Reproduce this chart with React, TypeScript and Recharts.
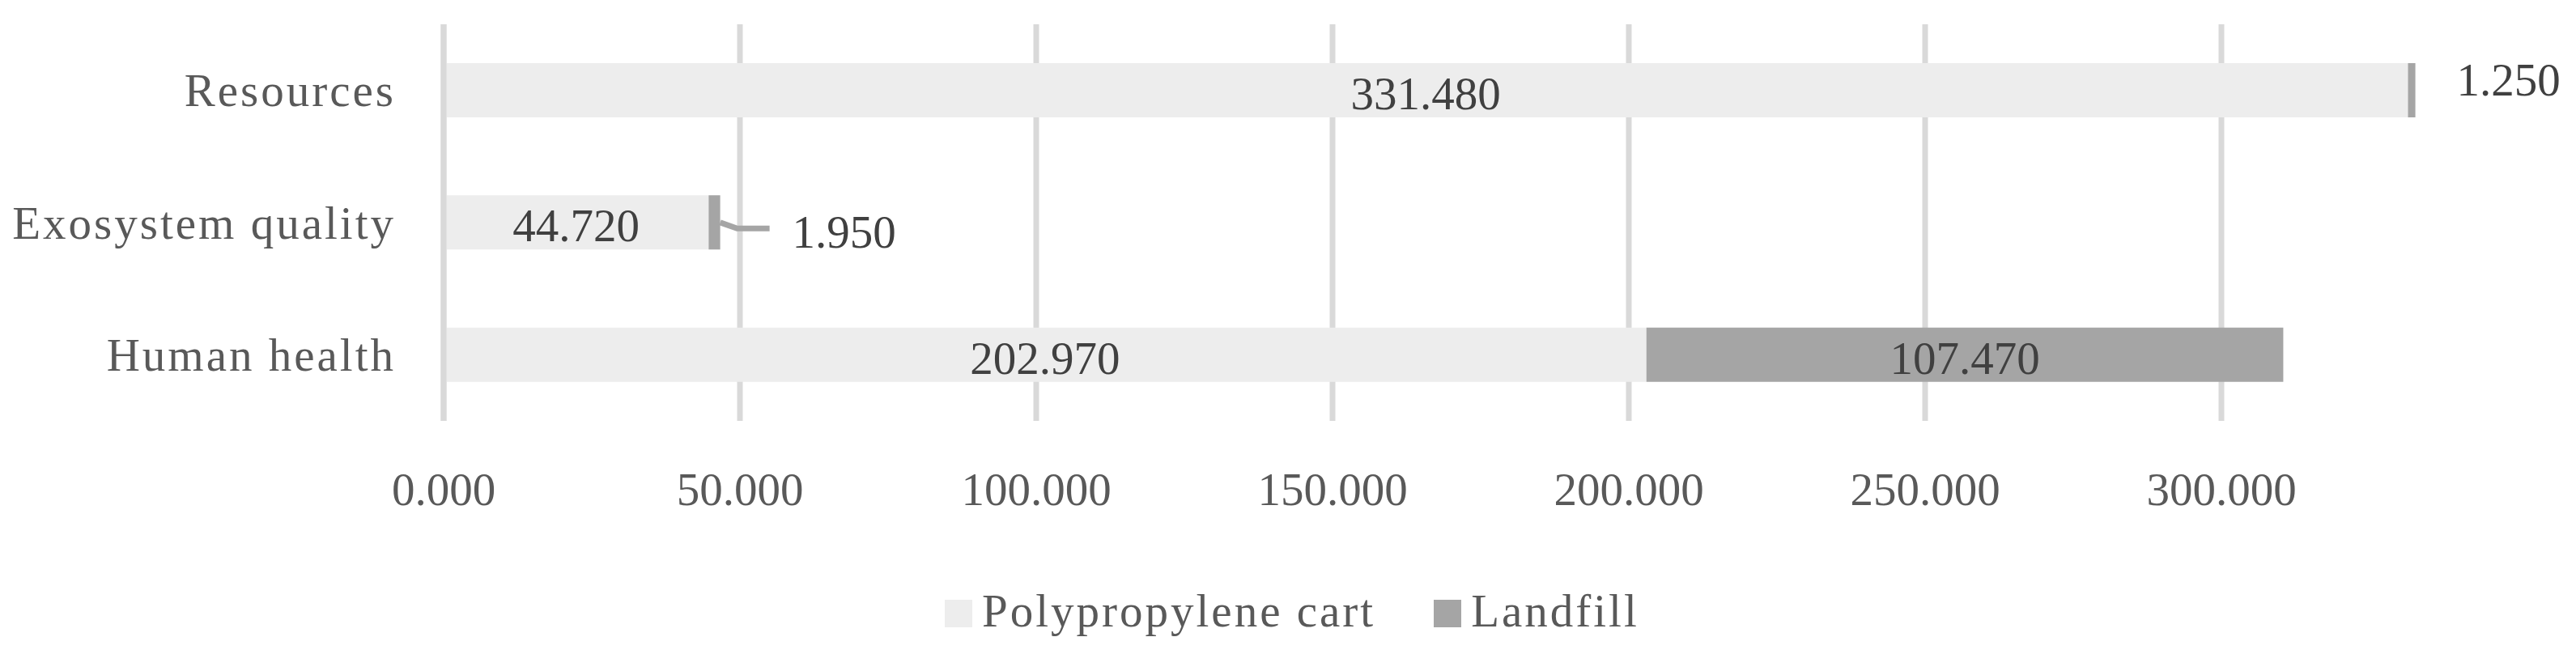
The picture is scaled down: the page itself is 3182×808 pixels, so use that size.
import { BarChart, Bar, XAxis, YAxis, CartesianGrid, LabelList } from 'recharts';

const categories = ['Resources', 'Exosystem quality', 'Human health'];
const polypropyleneCart = [331.48, 44.72, 202.97];
const landfill = [1.25, 1.95, 107.47];
const xTicks = [0, 50, 100, 150, 200, 250, 300];
const xMax = 350;
const seriesNames = ['Polypropylene cart', 'Landfill'];
const seriesColors = ['#EDEDED', '#A5A5A5'];

const data = categories.map((name, i) => ({
  name,
  cart: polypropyleneCart[i],
  landfill: landfill[i],
}));

const FONT = '"Liberation Serif", "DejaVu Serif", serif';
const fmt = (v: number) => Number(v).toFixed(3);

const CategoryTick = ({ x, y, payload }: any) => (
  <text x={x + 3} y={y} dy={19.5} textAnchor="end" fontFamily={FONT} fontSize={57} fill="#595959" letterSpacing={3}>
    {payload.value}
  </text>
);

const ValueTick = ({ x, y, payload }: any) => (
  <text x={x} y={y} dy={104} textAnchor="middle" fontFamily={FONT} fontSize={57} fill="#595959">
    {fmt(payload.value)}
  </text>
);

const CartLabel = (p: any) => (
  <text x={p.x + p.width / 2} y={p.y + p.height / 2 + 23.5} textAnchor="middle" fontFamily={FONT} fontSize={57} fill="#404040">
    {fmt(p.value)}
  </text>
);

const LandfillLabel = (p: any) => {
  const end = p.x + p.width;
  const yc = p.y + p.height / 2;
  if (p.width > 100) {
    return (
      <text x={p.x + p.width / 2} y={yc + 23.5} textAnchor="middle" fontFamily={FONT} fontSize={57} fill="#404040">
        {fmt(p.value)}
      </text>
    );
  }
  if (p.index === 1) {
    // dragged-out label with a leader line, as in the original
    return (
      <g>
        <polyline
          points={`${end},${yc} ${end + 21},${yc + 7.5} ${end + 61},${yc + 7.5}`}
          fill="none"
          stroke="#A5A5A5"
          strokeWidth={7}
        />
        <text x={end + 89} y={yc + 31} fontFamily={FONT} fontSize={57} fill="#404040">
          {fmt(p.value)}
        </text>
      </g>
    );
  }
  return (
    <text x={end + 51} y={yc + 6.5} fontFamily={FONT} fontSize={57} fill="#404040">
      {fmt(p.value)}
    </text>
  );
};

// grid only at the labelled ticks (no line at the domain end)
const gridXs = ({ xAxis, offset }: any) => {
  const scale = xAxis && typeof xAxis.scale === 'function' ? xAxis.scale : null;
  return xTicks.map((t) => (scale ? scale(t) : offset.left + (t / xMax) * offset.width));
};

export default function App() {
  return (
    <div style={{ position: 'absolute', left: 0, top: 0, width: 3182, height: 808, background: '#fff' }}>
      <BarChart
        width={3182}
        height={808}
        data={data}
        layout="vertical"
        margin={{ top: 30, right: 72, bottom: 168, left: 0 }}
        barCategoryGap={0}
      >
        <CartesianGrid horizontal={false} stroke="#D9D9D9" strokeWidth={7} verticalCoordinatesGenerator={gridXs} />
        <XAxis
          type="number"
          domain={[0, xMax]}
          ticks={xTicks}
          axisLine={false}
          tickLine={false}
          tickSize={0}
          tickMargin={0}
          height={120}
          tick={<ValueTick />}
        />
        <YAxis
          type="category"
          dataKey="name"
          width={548}
          axisLine={{ stroke: '#D9D9D9', strokeWidth: 7 }}
          tickLine={false}
          tickSize={0}
          tickMargin={62}
          tick={<CategoryTick />}
        />
        <Bar dataKey="cart" name={seriesNames[0]} stackId="a" fill={seriesColors[0]} barSize={67} isAnimationActive={false}>
          <LabelList dataKey="cart" content={<CartLabel />} />
        </Bar>
        <Bar dataKey="landfill" name={seriesNames[1]} stackId="a" fill={seriesColors[1]} barSize={67} isAnimationActive={false}>
          <LabelList dataKey="landfill" content={<LandfillLabel />} />
        </Bar>
      </BarChart>
      <div
        style={{
          position: 'absolute',
          left: 1167,
          top: 726,
          display: 'flex',
          alignItems: 'flex-start',
          fontFamily: FONT,
          fontSize: 57,
          lineHeight: '57px',
          color: '#595959',
          letterSpacing: 3,
          whiteSpace: 'nowrap',
        }}
      >
        {seriesNames.map((n, i) => (
          <div key={n} style={{ display: 'flex', alignItems: 'flex-start', marginLeft: i === 0 ? 0 : 72 }}>
            <span style={{ display: 'inline-block', width: 34, height: 34, marginTop: 15, marginRight: 12, background: seriesColors[i] }} />
            <span>{n}</span>
          </div>
        ))}
      </div>
    </div>
  );
}
